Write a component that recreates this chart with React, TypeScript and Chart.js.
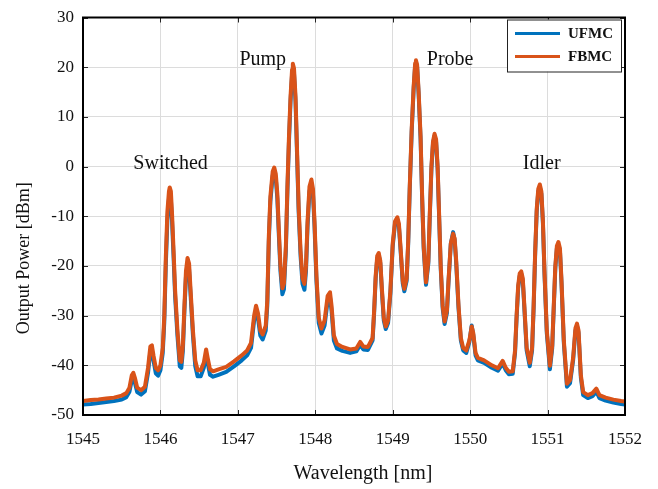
import { useEffect, useRef } from 'react';
import { Chart, registerables } from 'chart.js';

Chart.register(...registerables);

// Wavelength samples [nm]
const WAVELENGTH = [
  1545.00, 1545.10, 1545.20, 1545.30, 1545.40, 1545.50, 1545.56, 1545.60, 1545.63, 1545.65,
  1545.67, 1545.70, 1545.75, 1545.80, 1545.84, 1545.87, 1545.89, 1545.91, 1545.94, 1545.97,
  1546.00, 1546.03, 1546.05, 1546.07, 1546.09, 1546.11, 1546.12, 1546.135, 1546.15, 1546.17,
  1546.19, 1546.22, 1546.25, 1546.27, 1546.29, 1546.31, 1546.33, 1546.35, 1546.37, 1546.39,
  1546.42, 1546.45, 1546.48, 1546.52, 1546.56, 1546.59, 1546.61, 1546.64, 1546.68, 1546.75,
  1546.85, 1546.95, 1547.05, 1547.12, 1547.17, 1547.21, 1547.235, 1547.26, 1547.29, 1547.32,
  1547.36, 1547.38, 1547.40, 1547.42, 1547.45, 1547.47, 1547.49, 1547.51, 1547.53, 1547.55,
  1547.575, 1547.595, 1547.62, 1547.64, 1547.66, 1547.68, 1547.70, 1547.71, 1547.725, 1547.745,
  1547.765, 1547.785, 1547.81, 1547.835, 1547.86, 1547.88, 1547.90, 1547.925, 1547.95, 1547.97,
  1547.99, 1548.015, 1548.045, 1548.08, 1548.12, 1548.16, 1548.19, 1548.21, 1548.24, 1548.28,
  1548.35, 1548.45, 1548.53, 1548.58, 1548.62, 1548.68, 1548.74, 1548.76, 1548.78, 1548.80,
  1548.82, 1548.84, 1548.86, 1548.885, 1548.91, 1548.94, 1548.97, 1549.00, 1549.03, 1549.06,
  1549.08, 1549.10, 1549.13, 1549.15, 1549.18, 1549.20, 1549.22, 1549.245, 1549.27, 1549.29,
  1549.30, 1549.315, 1549.335, 1549.36, 1549.38, 1549.40, 1549.43, 1549.46, 1549.48, 1549.50,
  1549.52, 1549.54, 1549.56, 1549.58, 1549.60, 1549.62, 1549.645, 1549.67, 1549.70, 1549.72,
  1549.75, 1549.78, 1549.80, 1549.82, 1549.85, 1549.88, 1549.91, 1549.95, 1549.99, 1550.02,
  1550.04, 1550.07, 1550.10, 1550.18, 1550.28, 1550.36, 1550.42, 1550.46, 1550.50, 1550.55,
  1550.58, 1550.60, 1550.62, 1550.64, 1550.66, 1550.68, 1550.70, 1550.73, 1550.77, 1550.80,
  1550.82, 1550.84, 1550.86, 1550.88, 1550.90, 1550.92, 1550.94, 1550.96, 1550.99, 1551.03,
  1551.06, 1551.08, 1551.10, 1551.12, 1551.14, 1551.16, 1551.18, 1551.21, 1551.25, 1551.29,
  1551.33, 1551.36, 1551.38, 1551.40, 1551.43, 1551.46, 1551.52, 1551.58, 1551.63, 1551.67,
  1551.75, 1551.85, 1551.95, 1552.00,
];

// FBMC output power [dBm]
const FBMC = [
  -47.2, -47.0, -46.9, -46.7, -46.5, -46.1, -45.6, -44.5, -42.0, -41.5,
  -42.5, -44.5, -45.0, -44.3, -40.5, -36.2, -36.0, -38.0, -40.5, -41.0,
  -40.0, -36.5, -30.0, -18.0, -9.0, -5.0, -4.2, -5.0, -9.5, -17.0,
  -25.0, -33.0, -39.0, -39.3, -36.0, -28.0, -21.0, -18.4, -19.5, -25.0,
  -33.0, -39.0, -41.0, -41.0, -39.5, -36.8, -38.5, -40.8, -41.2, -40.8,
  -40.3, -39.2, -38.0, -37.0, -35.5, -30.0, -28.0, -29.5, -33.0, -33.8,
  -32.0, -27.0, -14.0, -6.0, -1.0, -0.2, -1.5, -5.5, -13.0, -20.0,
  -24.5, -23.5, -16.0, -4.0, 6.0, 14.0, 19.5, 20.7, 19.8, 14.0,
  3.0, -8.0, -17.0, -22.5, -23.6, -20.0, -11.0, -4.0, -2.6, -4.5,
  -11.0, -22.0, -30.5, -32.6, -31.0, -26.0, -25.3, -28.0, -34.0, -35.7,
  -36.3, -36.8, -36.6, -35.3, -36.2, -36.3, -34.5, -29.0, -22.0, -18.0,
  -17.4, -19.0, -24.5, -30.5, -32.2, -31.0, -25.0, -15.5, -11.0, -10.2,
  -11.5, -16.0, -23.0, -24.6, -22.5, -15.0, -4.0, 7.5, 16.0, 20.8,
  21.4, 20.5, 15.0, 6.0, -6.0, -16.0, -23.3, -19.0, -9.0, 0.0,
  5.0, 6.6, 5.5, 0.0, -10.0, -20.0, -28.0, -31.2, -29.0, -23.0,
  -15.5, -13.5, -14.5, -19.0, -28.0, -34.5, -36.5, -37.0, -35.0, -32.2,
  -33.5, -37.5, -38.5, -39.0, -40.0, -40.6, -39.1, -40.5, -41.3, -41.2,
  -37.0, -30.0, -24.0, -21.5, -21.1, -22.5, -28.0, -36.5, -39.5, -36.5,
  -28.0, -17.0, -8.5, -4.5, -3.6, -5.0, -11.0, -21.0, -33.0, -40.1,
  -36.0, -28.0, -20.0, -16.0, -15.2, -16.5, -23.0, -35.0, -43.7, -43.0,
  -38.5, -32.5, -31.6, -33.0, -42.0, -45.4, -46.0, -45.6, -44.7, -46.0,
  -46.5, -46.9, -47.2, -47.3,
];

// UFMC output power [dBm]
const UFMC = [
  -47.9, -47.8, -47.6, -47.4, -47.2, -46.9, -46.4, -45.3, -43.0, -42.5,
  -43.5, -45.4, -45.9, -45.2, -41.5, -37.2, -37.0, -39.0, -41.6, -42.1,
  -41.0, -37.5, -31.2, -19.5, -10.8, -6.5, -5.8, -6.6, -11.0, -18.3,
  -26.2, -34.1, -40.2, -40.5, -37.1, -29.0, -22.1, -19.6, -20.7, -26.0,
  -34.0, -40.2, -42.2, -42.2, -40.5, -37.8, -39.5, -41.9, -42.3, -41.9,
  -41.3, -40.2, -39.0, -38.0, -36.5, -31.0, -29.0, -30.5, -34.0, -34.8,
  -33.0, -28.0, -15.0, -7.0, -1.8, -1.0, -2.4, -6.5, -14.0, -21.0,
  -25.7, -24.7, -17.0, -5.0, 5.0, 13.0, 18.5, 19.8, 18.8, 13.0,
  2.0, -9.0, -18.0, -23.6, -24.8, -21.0, -12.0, -5.0, -3.6, -5.5,
  -12.0, -23.0, -31.5, -33.6, -32.0, -27.0, -26.3, -29.0, -35.0, -36.6,
  -37.1, -37.5, -37.2, -35.9, -36.8, -36.9, -35.0, -29.5, -22.5, -18.5,
  -17.9, -19.5, -25.0, -31.0, -32.7, -31.5, -25.5, -16.0, -11.5, -10.7,
  -12.0, -16.5, -23.5, -25.1, -23.0, -15.5, -4.5, 7.0, 15.5, 20.4,
  21.0, 20.1, 14.5, 5.5, -6.5, -16.5, -23.8, -19.5, -9.5, -0.5,
  4.5, 6.2, 5.0, -0.5, -10.5, -20.5, -28.5, -31.7, -29.5, -23.5,
  -15.6, -13.2, -14.8, -19.5, -28.5, -35.0, -37.0, -37.5, -35.3, -32.0,
  -33.8, -38.0, -39.0, -39.5, -40.5, -41.1, -39.6, -41.0, -41.8, -41.7,
  -37.5, -30.5, -24.5, -22.0, -21.6, -23.0, -28.5, -37.0, -40.2, -37.0,
  -28.5, -17.5, -9.0, -5.0, -4.2, -5.5, -11.5, -21.5, -33.5, -40.8,
  -36.5, -28.5, -20.5, -16.5, -15.8, -17.0, -23.5, -35.5, -44.3, -43.6,
  -39.0, -33.0, -32.1, -33.5, -42.5, -46.0, -46.6, -46.2, -45.3, -46.6,
  -47.1, -47.5, -47.8, -47.9,
];

const SERIES_NAMES = ['UFMC', 'FBMC'];
const X_TICKS = [1545, 1546, 1547, 1548, 1549, 1550, 1551, 1552];
const Y_TICKS = [-50, -40, -30, -20, -10, 0, 10, 20, 30];
const X_TITLE = 'Wavelength [nm]';
const Y_TITLE = 'Output Power [dBm]';

// Text annotations, anchored (left / baseline) in data coordinates
const NOTE_TEXT = ['Switched', 'Pump', 'Probe', 'Idler'];
const NOTE_WL = [1545.65, 1547.02, 1549.44, 1550.68];
const NOTE_DBM = [-0.4, 20.45, 20.5, -0.4];

const BLUE = '#0072BD';
const ORANGE = '#D95319';
const SERIF = "'Liberation Serif', 'Times New Roman', serif";

const framePlugin = {
  id: 'matlabFrame',
  afterDraw(chart: any) {
    const { ctx, chartArea, scales } = chart;
    const { left, top, right, bottom } = chartArea;
    const xs = scales.x;
    const ys = scales.y;
    ctx.save();

    // inward ticks on all four sides
    ctx.strokeStyle = '#262626';
    ctx.lineWidth = 1;
    ctx.beginPath();
    X_TICKS.forEach((v) => {
      const px = Math.round(xs.getPixelForValue(v)) + 0.5;
      ctx.moveTo(px, bottom);
      ctx.lineTo(px, bottom - 5);
      ctx.moveTo(px, top);
      ctx.lineTo(px, top + 5);
    });
    Y_TICKS.forEach((v) => {
      const py = Math.round(ys.getPixelForValue(v)) + 0.5;
      ctx.moveTo(left, py);
      ctx.lineTo(left + 5, py);
      ctx.moveTo(right, py);
      ctx.lineTo(right - 5, py);
    });
    ctx.stroke();

    // box
    ctx.strokeStyle = '#000';
    ctx.lineWidth = 2;
    ctx.strokeRect(left, top, right - left, bottom - top);

    // annotations
    ctx.fillStyle = '#111';
    ctx.font = `20px ${SERIF}`;
    ctx.textAlign = 'left';
    ctx.textBaseline = 'alphabetic';
    NOTE_TEXT.forEach((t, i) => {
      ctx.fillText(t, xs.getPixelForValue(NOTE_WL[i]), ys.getPixelForValue(NOTE_DBM[i]));
    });

    // legend
    const bw = 114;
    const bh = 52;
    const bx = right - 4 - bw;
    const by = top + 2;
    ctx.fillStyle = '#fff';
    ctx.fillRect(bx, by, bw, bh);
    ctx.strokeStyle = '#222';
    ctx.lineWidth = 1;
    ctx.strokeRect(bx + 0.5, by + 0.5, bw, bh);
    const colors = [BLUE, ORANGE];
    SERIES_NAMES.forEach((name, i) => {
      const ly = by + 14 + i * 23;
      ctx.strokeStyle = colors[i];
      ctx.lineWidth = 3;
      ctx.beginPath();
      ctx.moveTo(bx + 8, ly);
      ctx.lineTo(bx + 53, ly);
      ctx.stroke();
      ctx.fillStyle = '#111';
      ctx.font = `bold 15px ${SERIF}`;
      ctx.textBaseline = 'middle';
      ctx.fillText(name, bx + 61, ly + 1);
    });

    // axis titles
    ctx.fillStyle = '#111';
    ctx.textAlign = 'center';
    ctx.textBaseline = 'alphabetic';
    ctx.font = `20px ${SERIF}`;
    ctx.fillText(X_TITLE, (left + right) / 2 + 9, 479);
    ctx.save();
    ctx.translate(29, (top + bottom) / 2 + 42);
    ctx.rotate(-Math.PI / 2);
    ctx.font = `18px ${SERIF}`;
    ctx.fillText(Y_TITLE, 0, 0);
    ctx.restore();

    ctx.restore();
  },
};

export default function App() {
  const ref = useRef<HTMLCanvasElement | null>(null);

  useEffect(() => {
    const canvas = ref.current;
    if (!canvas) return;
    const chart = new Chart(canvas, {
      type: 'line',
      data: {
        datasets: [
          {
            label: SERIES_NAMES[0],
            data: WAVELENGTH.map((x, i) => ({ x, y: UFMC[i] })),
            borderColor: BLUE,
            borderWidth: 4,
            borderJoinStyle: 'round',
            borderCapStyle: 'round',
            pointRadius: 0,
            tension: 0,
            order: 2,
          },
          {
            label: SERIES_NAMES[1],
            data: WAVELENGTH.map((x, i) => ({ x, y: FBMC[i] })),
            borderColor: ORANGE,
            borderWidth: 4,
            borderJoinStyle: 'round',
            borderCapStyle: 'round',
            pointRadius: 0,
            tension: 0,
            order: 1,
          },
        ],
      },
      options: {
        animation: false,
        responsive: false,
        events: [],
        layout: { padding: { top: 10, right: 33, left: 0, bottom: 0 } },
        plugins: {
          legend: { display: false },
          tooltip: { enabled: false },
          title: { display: false },
        },
        scales: {
          x: {
            type: 'linear',
            min: 1545,
            max: 1552,
            afterBuildTicks: (s: any) => {
              s.ticks = X_TICKS.map((v) => ({ value: v }));
            },
            afterFit: (s: any) => {
              s.height = 74;
            },
            ticks: {
              callback: (v: any) => String(v),
              font: { family: SERIF, size: 17, lineHeight: 1 },
              color: '#111',
              padding: 16,
              maxRotation: 0,
            },
            grid: { color: '#dcdcdc', lineWidth: 1, drawTicks: false },
            border: { display: false },
          },
          y: {
            type: 'linear',
            min: -50,
            max: 30,
            afterBuildTicks: (s: any) => {
              s.ticks = Y_TICKS.map((v) => ({ value: v }));
            },
            afterFit: (s: any) => {
              s.width = 83;
            },
            ticks: {
              callback: (v: any) => String(v),
              font: { family: SERIF, size: 17, lineHeight: 1 },
              color: '#111',
              padding: 9,
            },
            grid: { color: '#dcdcdc', lineWidth: 1, drawTicks: false },
            border: { display: false },
          },
        },
      },
      plugins: [framePlugin],
    } as any);
    return () => chart.destroy();
  }, []);

  return (
    <div style={{ position: 'absolute', left: 0, top: 0, width: 658, height: 489, background: '#fff' }}>
      <canvas ref={ref} width={658} height={489} style={{ display: 'block' }} />
    </div>
  );
}
